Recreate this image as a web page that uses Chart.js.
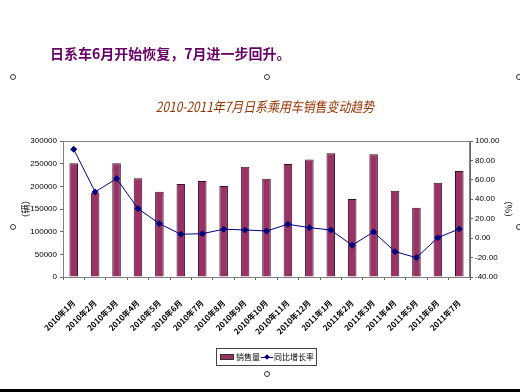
<!DOCTYPE html>
<html>
<head>
<meta charset="utf-8">
<script src="https://cdn.jsdelivr.net/npm/chart.js@4"></script>
<style>
  body { margin: 0; background: #fff; }
  #wrap { position: relative; width: 520px; height: 392px; overflow: hidden; }
  #c { position: absolute; left: 0; top: 0; }
  .head { position: absolute; left: 50px; top: 43px; font: bold 14px "Noto Sans CJK SC", sans-serif; color: #660066; white-space: nowrap; line-height: 20px; }
  .title { position: absolute; left: 0; width: 530px; top: 96px; text-align: center; font: italic 14px "Noto Sans CJK SC", sans-serif; color: #993300; white-space: nowrap; line-height: 20px; transform: scaleX(0.85); }
  .dot { position: absolute; width: 4px; height: 4px; border: 1px solid #333; border-radius: 50%; background: #fff; }
  .legend { position: absolute; left: 216px; top: 348px; width: 99px; height: 16px; border: 1px solid #444; font: 8px "Noto Sans CJK SC", sans-serif; color: #000; white-space: nowrap; }
  .legend span { position: absolute; top: 2px; line-height: 12px; }
  .sw { position: absolute; left: 3px; top: 5px; width: 14px; height: 6px; background: #993366; border: 1px solid #333; box-sizing: border-box; }
  .ln { position: absolute; left: 44px; top: 8px; width: 12px; height: 1px; background: #000080; }
  .dm { position: absolute; left: 48px; top: 6px; width: 4px; height: 4px; background: #000080; transform: rotate(45deg); }
  .bottom { position: absolute; left: 0; top: 389px; width: 520px; height: 3px; background: #000; }
</style>
</head>
<body>
<div id="wrap">
  <canvas id="c" width="520" height="392"></canvas>
  <div class="head">日系车6月开始恢复，7月进一步回升。</div>
  <div class="title">2010-2011年7月日系乘用车销售变动趋势</div>
  <div class="dot" style="left:10px;top:74px"></div>
  <div class="dot" style="left:264px;top:74px"></div>
  <div class="dot" style="left:516px;top:74px"></div>
  <div class="dot" style="left:10px;top:224px"></div>
  <div class="dot" style="left:516px;top:224px"></div>
  <div class="dot" style="left:264px;top:371px"></div>
  <div class="legend">
    <div class="sw"></div><span style="left:19px">销售量</span>
    <div class="ln"></div><div class="dm"></div><span style="left:57px">同比增长率</span>
  </div>
  <div class="bottom"></div>
</div>
<script>
var months = ['2010年1月', '2010年2月', '2010年3月', '2010年4月', '2010年5月', '2010年6月',
    '2010年7月', '2010年8月', '2010年9月', '2010年10月', '2010年11月', '2010年12月',
    '2011年1月', '2011年2月', '2011年3月', '2011年4月', '2011年5月', '2011年6月', '2011年7月'];
var salesData = [251000, 186000, 251000, 218000, 188000, 205000, 212000, 201000, 243000, 217000,
    249000, 259000, 273000, 172000, 271000, 190000, 153000, 208000, 234000];
var growthData = [91.5, 47.6, 61.3, 30.4, 14.9, 4.0, 4.6, 9.2, 8.4, 7.4,
    14.3, 10.8, 8.4, -7.3, 6.4, -13.9, -20.1, 0.5, 9.5];

var tickFont = { family: "'Liberation Sans Narrow', 'Arial Narrow', 'Liberation Sans', sans-serif", size: 8 };

// 绘图区外框
var frame = {
    id: 'frame',
    afterDraw: function (chart) {
        var a = chart.chartArea, ctx = chart.ctx;
        ctx.save();
        ctx.strokeStyle = '#808080';
        ctx.lineWidth = 1;
        ctx.strokeRect(a.left + 0.5, a.top + 0.5, a.right - a.left - 1, a.bottom - a.top);
        ctx.restore();
    }
};

var ctx = document.getElementById('c').getContext('2d');
var chart = new Chart(ctx, {
    type: 'bar',
    data: {
        labels: months,
        datasets: [{
            type: 'line',
            label: '同比增长率',
            data: growthData,
            yAxisID: 'y1',
            borderColor: '#000080',
            backgroundColor: '#000080',
            borderWidth: 1,
            pointStyle: 'rectRot',
            pointRadius: 3,
            order: 1
        }, {
            label: '销售量',
            data: salesData,
            yAxisID: 'y',
            backgroundColor: '#993366',
            borderColor: '#3a1026',
            borderWidth: 1,
            categoryPercentage: 1,
            barPercentage: 0.4,
            order: 2
        }]
    },
    options: {
        responsive: false,
        animation: false,
        layout: { padding: { top: 141, left: 20, right: 6, bottom: 0 } },
        plugins: { legend: { display: false }, tooltip: { enabled: false } },
        scales: {
            x: {
                grid: { drawOnChartArea: false, tickLength: 3, color: '#666' },
                border: { color: '#666' },
                ticks: {
                    autoSkip: false, maxRotation: 45, minRotation: 45, padding: 18,
                    color: '#000', font: { family: "'Noto Sans CJK SC', sans-serif", size: 8, weight: 'bold' }
                },
                afterFit: function (s) { s.height = 115; }
            },
            y: {
                position: 'left',
                min: 0, max: 300000,
                grid: { drawOnChartArea: false, tickLength: 3, color: '#666' },
                border: { color: '#666' },
                ticks: {
                    stepSize: 50000, padding: 3, color: '#000', font: tickFont,
                    callback: function (v) { return String(v); }
                },
                title: { display: true, text: '（辆）', color: '#000', padding: 0,
                    font: { family: "'Noto Sans CJK SC', sans-serif", size: 9 } },
                afterFit: function (s) { s.width = 43; }
            },
            y1: {
                position: 'right',
                min: -40, max: 100,
                grid: { drawOnChartArea: false, tickLength: 3, color: '#666' },
                border: { color: '#666' },
                ticks: {
                    stepSize: 20, padding: 2, color: '#000', font: tickFont,
                    callback: function (v) { return v.toFixed(2); }
                },
                title: { display: true, text: '（%）', color: '#000', padding: 0,
                    font: { family: "'Noto Sans CJK SC', sans-serif", size: 9 } },
                afterFit: function (s) { s.width = 44; }
            }
        }
    },
    plugins: [frame]
});
</script>
</body>
</html>
